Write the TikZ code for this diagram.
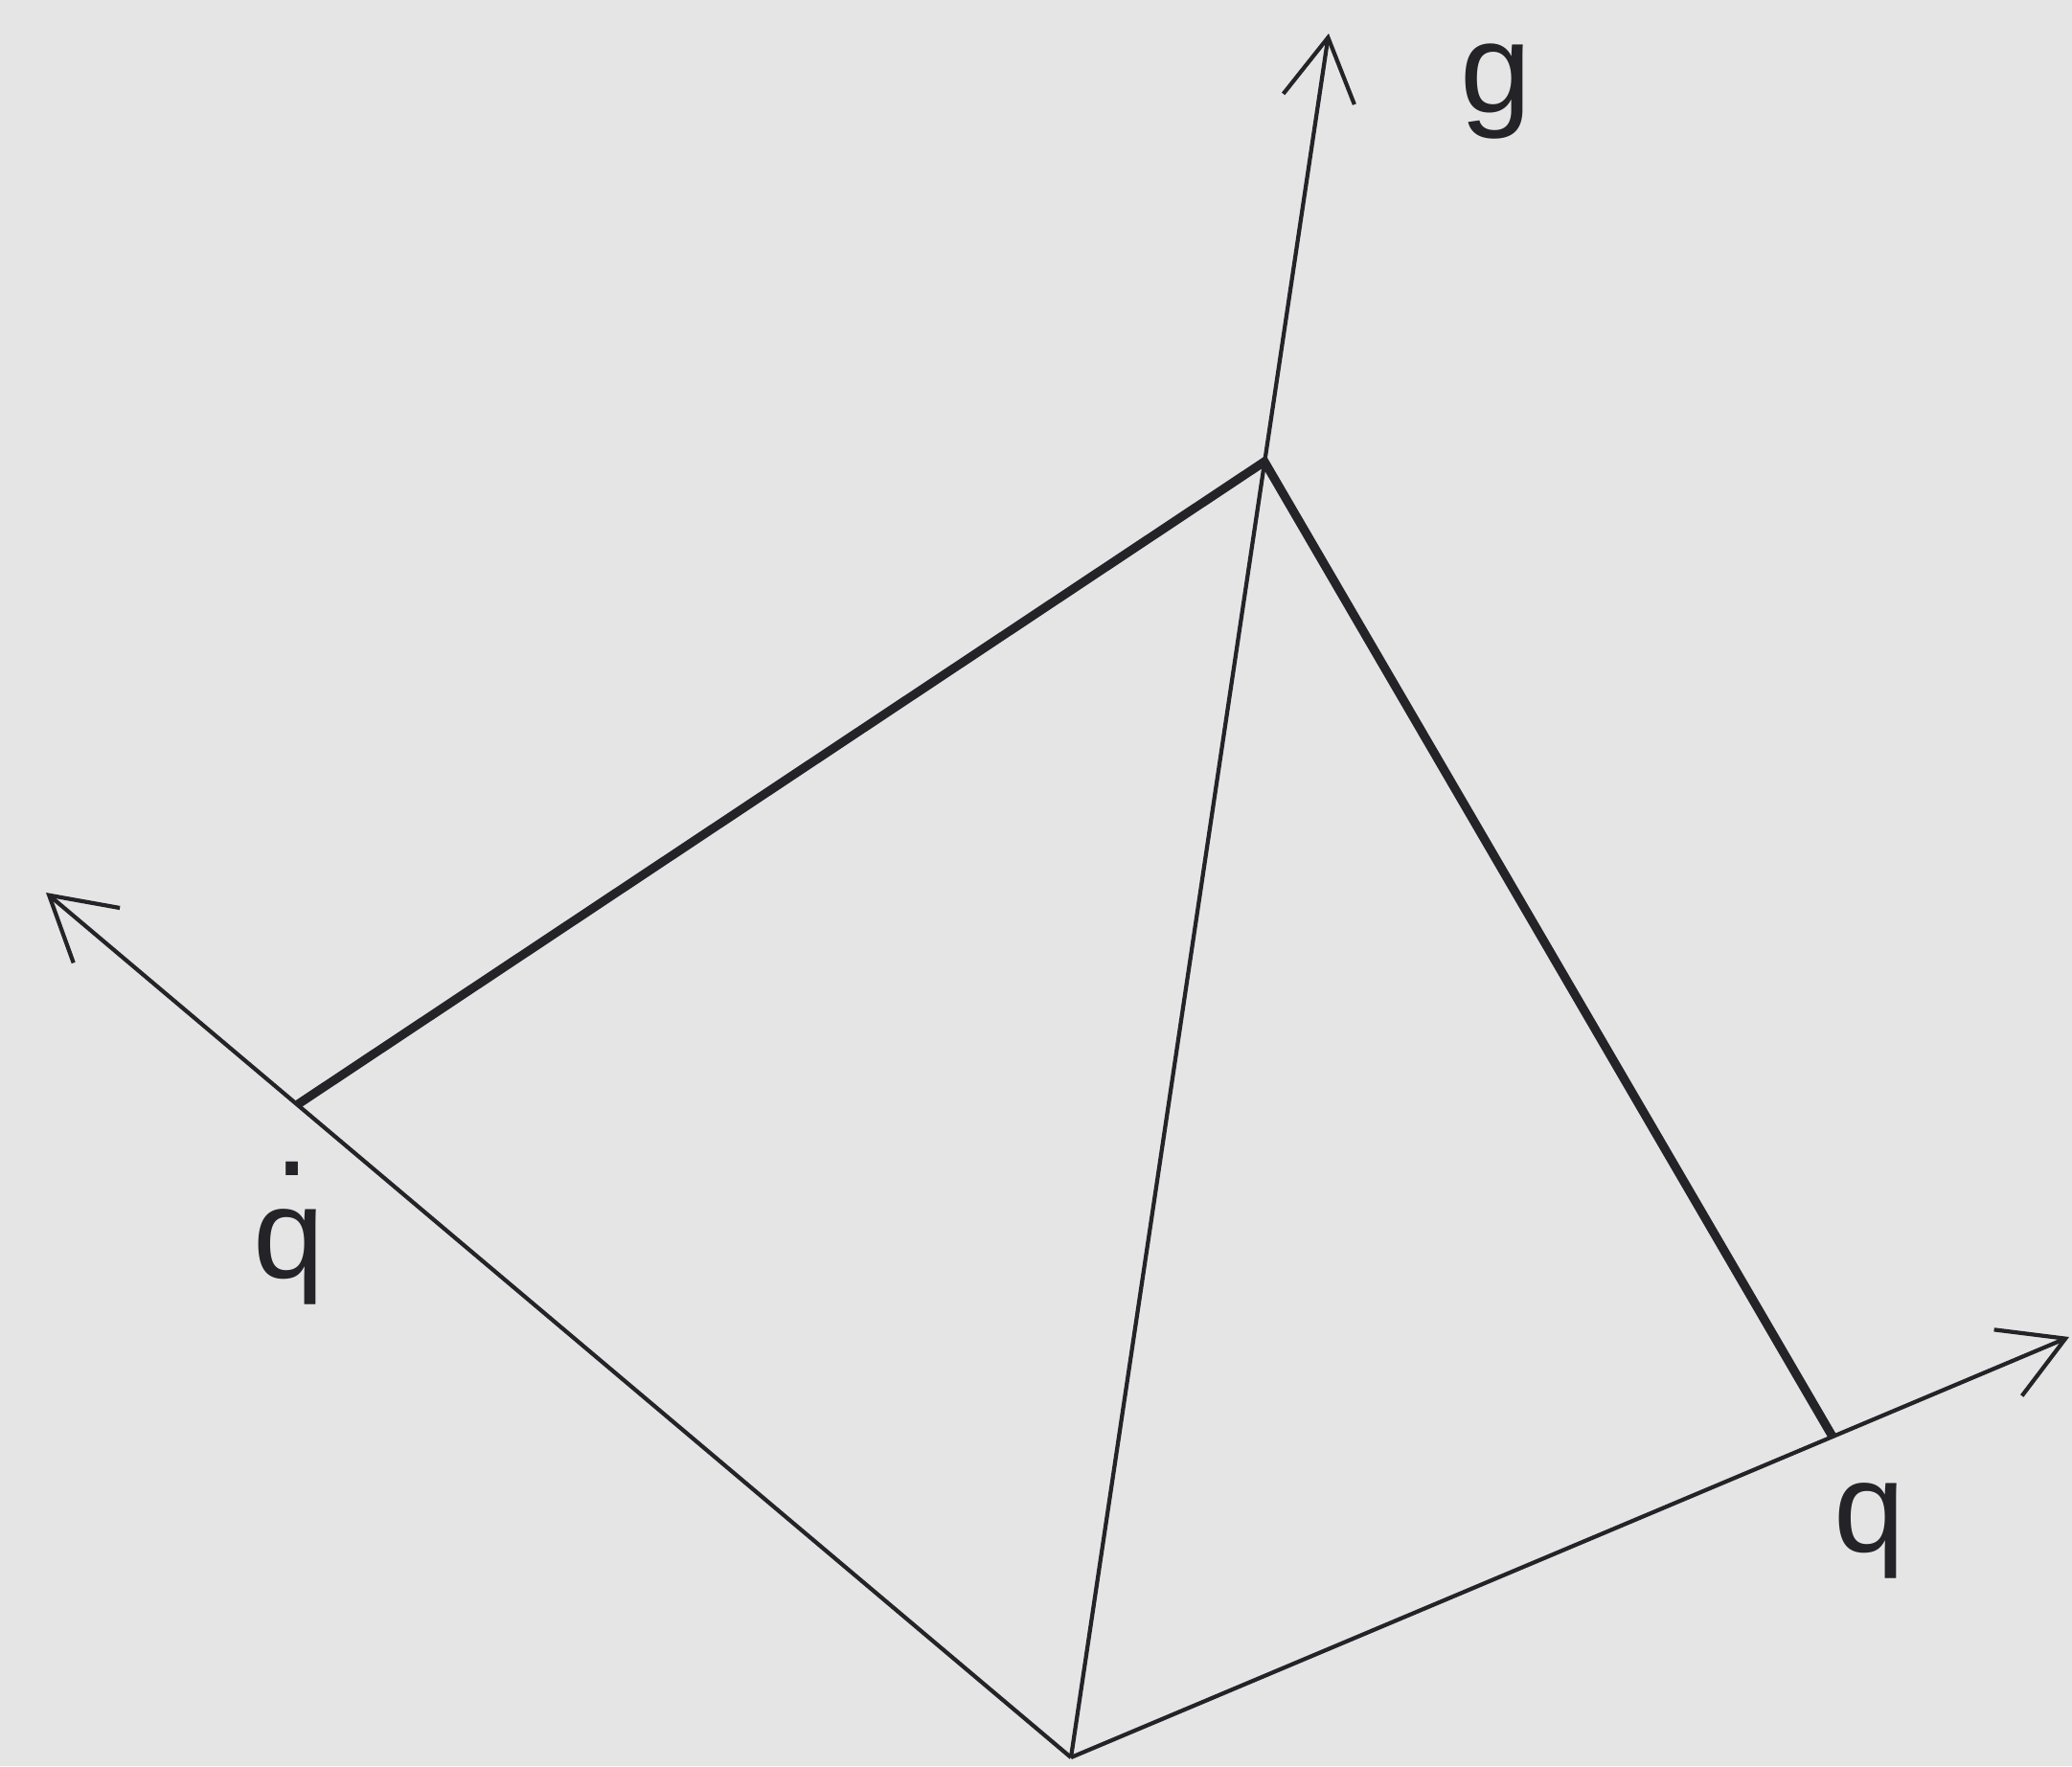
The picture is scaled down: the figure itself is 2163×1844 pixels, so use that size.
\documentclass[tikz,border=0pt]{standalone}
\usepackage{fontspec}
\setmainfont{Liberation Sans}
\usepackage{xcolor}
\usetikzlibrary{arrows.meta}
\definecolor{bggray}{RGB}{229,229,229}
\definecolor{ink}{RGB}{35,35,40}
\newcommand{\qdotlabel}{\rlap{\kern0.16em\raisebox{0.80em}{.}}q}

\begin{document}
\begin{tikzpicture}[x=0.01cm,y=-0.01cm,
  axis/.style={draw=ink,line width=1.2pt,-{Straight Barb[length=6.5mm,width=7.5mm,line width=1.2pt]}},
  bold/.style={draw=ink,line width=2.6pt,line join=miter},
  lbl/.style={anchor=base,inner sep=0pt,font=\fontsize{38}{44}\selectfont,text=ink}]
\fill[bggray] (0,0) rectangle (2163,1844);
\useasboundingbox (0,0) rectangle (2163,1844);
\coordinate (o) at (1118,1835);
\coordinate (gtip) at (1387,35);
\coordinate (qdtip) at (48,932);
\coordinate (qtip) at (2160,1396);
\coordinate (p) at (1320,482);
\coordinate (a) at (311,1153);
\coordinate (b) at (1913,1500);
\draw[axis] (o)--(gtip);
\draw[axis] (o)--(qdtip);
\draw[axis] (o)--(qtip);
\draw[bold] (a)--(p)--(b);
\node[lbl] (g) at (1562,117) {g};
\node[lbl] (qd) at (302,1334) {\qdotlabel};
\node[lbl] (q) at (1952,1620) {q};
\end{tikzpicture}
\end{document}
